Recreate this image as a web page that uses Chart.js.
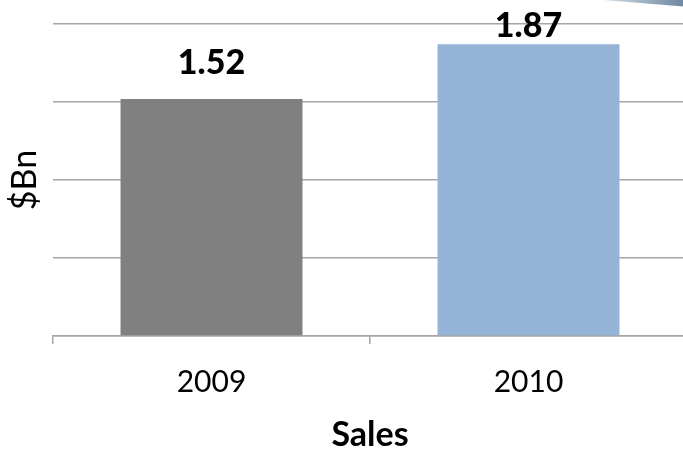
<!DOCTYPE html>
<html>
<head>
<meta charset="utf-8">
<script src="https://cdn.jsdelivr.net/npm/chart.js@4/dist/chart.umd.min.js"></script>
<style>
    html, body { margin: 0; padding: 0; background: #fff; overflow: hidden; }
    .wrap { width: 690px; height: 452px; position: relative; }
</style>
</head>
<body>
<div class="wrap"><canvas id="myChart"></canvas></div>
<script>
const years = ['2009', '2010']
const sales = [1.52, 1.87]
const barColors = ['#808080', '#95b3d7']
const yTicks = [0, 0.5, 1, 1.5, 2]

const fontFamily = 'Lato, "Open Sans", sans-serif'

// labels above the bars, kept inside the top of the plot
const barLabels = {
    id: 'barLabels',
    afterDatasetsDraw(chart) {
        const c = chart.ctx
        const meta = chart.getDatasetMeta(0)
        c.save()
        c.font = '900 34px ' + fontFamily
        c.fillStyle = '#000'
        c.textAlign = 'center'
        c.textBaseline = 'alphabetic'
        meta.data.forEach((bar, i) => {
            let y = Math.max(bar.y - 25, chart.chartArea.top + 13)
            c.fillText(sales[i].toFixed(2), bar.x, y)
        })
        c.restore()
    }
}

// bit of the slide's arrow peeking in at the top right
const corner = {
    id: 'corner',
    afterDraw(chart) {
        const c = chart.ctx
        const g = c.createLinearGradient(603, 0, 683, 0)
        g.addColorStop(0, '#d5dde4')
        g.addColorStop(1, '#6d88a3')
        c.save()
        c.fillStyle = g
        c.beginPath()
        c.moveTo(603, 0)
        c.lineTo(690, 0)
        c.lineTo(690, 7)
        c.closePath()
        c.fill()
        c.restore()
    }
}

const ctx = document.getElementById('myChart')

new Chart(ctx, {
    type: 'bar',
    data: {
        labels: years,
        datasets: [{
            data: sales,
            backgroundColor: barColors,
            borderWidth: 0,
            barPercentage: 0.574,
            categoryPercentage: 1
        }]
    },
    options: {
        responsive: true,
        maintainAspectRatio: false,
        animation: false,
        layout: { padding: { top: 24, right: 3, bottom: 0, left: 0 } },
        plugins: {
            legend: { display: false },
            tooltip: { enabled: false }
        },
        scales: {
            x: {
                grid: {
                    offset: true,
                    drawOnChartArea: false,
                    drawTicks: true,
                    tickLength: 8,
                    color: '#a6a6a6',
                    lineWidth: 1.5
                },
                border: { display: true, color: '#a6a6a6', width: 1.5 },
                ticks: {
                    color: '#000',
                    font: { family: fontFamily, size: 30 },
                    padding: 20
                },
                title: {
                    display: true,
                    text: 'Sales',
                    color: '#000',
                    font: { family: fontFamily, size: 34, weight: 'bold', lineHeight: 1 },
                    padding: { top: 0, bottom: 0 }
                },
                afterFit(scale) { scale.height = 116 }
            },
            y: {
                min: yTicks[0],
                max: yTicks[yTicks.length - 1],
                afterBuildTicks(scale) { scale.ticks = yTicks.map(v => ({ value: v })) },
                ticks: { display: false },
                grid: {
                    color: '#a6a6a6',
                    lineWidth: 1.5,
                    drawTicks: false
                },
                border: { display: false },
                title: {
                    display: true,
                    text: '$Bn',
                    color: '#000',
                    font: { family: fontFamily, size: 34, lineHeight: 1 },
                    padding: { top: 8, bottom: 0 }
                },
                afterFit(scale) { scale.width = 53 }
            }
        }
    },
    plugins: [barLabels, corner]
})
</script>
</body>
</html>
